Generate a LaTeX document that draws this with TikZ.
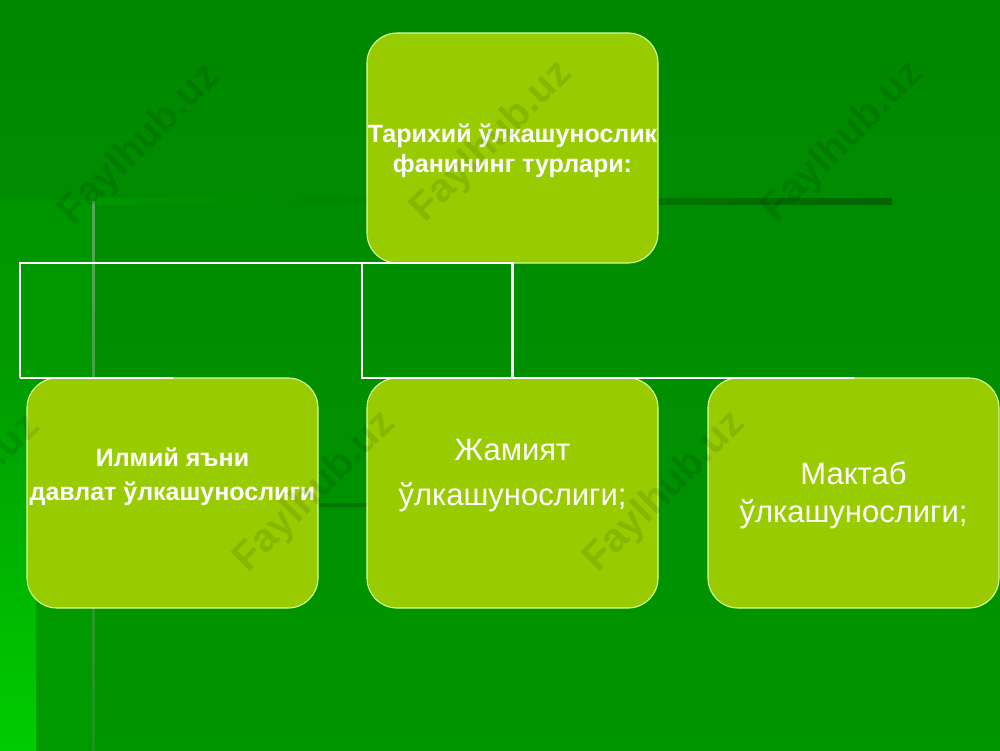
\documentclass[tikz,border=0pt]{standalone}
\usepackage{fontspec}
\setmainfont{Liberation Sans}
\usetikzlibrary{positioning}
\definecolor{bgtop}{RGB}{0,136,0}
\definecolor{bgbot}{RGB}{0,150,0}
\definecolor{bgleft}{RGB}{0,154,0}
\definecolor{bgbright}{RGB}{0,204,0}
\definecolor{bardark}{RGB}{0,102,0}
\definecolor{boxfill}{RGB}{153,204,0}
\definecolor{boxline}{RGB}{210,255,160}

\begin{document}
\begin{tikzpicture}[x=1pt, y=-1pt, node distance=115pt and 49pt,
                       box/.style={draw=boxline, line width=1.1pt, fill=boxfill, rounded corners=30pt, minimum width=291pt, minimum height=230pt, inner sep=0pt, outer sep=0pt},
                       txt/.style={text=white, align=center},
                       conn/.style={draw=white, line width=2.5pt},
                       wmark/.style={rotate=45, text=black, opacity=0.1, font=\bfseries\fontsize{40}{40}\selectfont}]
        \useasboundingbox (0,0) rectangle (1000,750);
        % Background
        \shade[top color=bgtop, bottom color=bgbot] (0,0) rectangle (1000,750);
        \shade[top color=bgbot, bottom color=bgleft] (0,200) rectangle (93,750);
        \shade[top color=bgleft, bottom color=bgbright] (0,360) rectangle (36,750);
        \shade[left color=bgbot, right color=bardark] (93,198) rectangle (892,204);
        \fill[bardark, opacity=0.6] (100,503) rectangle (370,507);
        \shade[top color=gray!70!green, bottom color=bgleft!80!gray] (92,201) rectangle (94.5,750);
        % Boxes
        \node[box] (turlari) at (512.5,148) {};
        \node[box, below=of turlari] (jamiyat) {};
        \node[box, left=of jamiyat] (ilmiy) {};
        \node[box, right=50pt of jamiyat] (maktab) {};
        % Texts
        \node[txt, font=\bfseries\fontsize{25}{30}\selectfont] (turlari-t) at ([yshift=-3pt]turlari.center)
            {Тарихий ўлкашунослик\\ фанининг турлари:};
        \node[txt, font=\bfseries\fontsize{25}{34}\selectfont] (ilmiy-t) at ([yshift=16pt]ilmiy.center)
            {Илмий яъни\\давлат ўлкашунослиги};
        \node[txt, font=\fontsize{31}{45}\selectfont] (jamiyat-t) at ([yshift=17pt]jamiyat.center)
            {Жамият\\ ўлкашунослиги;};
        \node[txt, font=\fontsize{31}{38}\selectfont] (maktab-t) at ([yshift=-2pt]maktab.center)
            {Мактаб\\ ўлкашунослиги;};
        % Connectors
        \coordinate (lft) at (20,263);
        \coordinate (mid) at (362,263);
        \draw[conn] (lft |- ilmiy.north) -- (lft) -- (turlari.south) -- (jamiyat.north);
        \draw[conn] (lft |- ilmiy.north) -- (ilmiy.north);
        \draw[conn] (mid) -- (mid |- jamiyat.north) -- (maktab.north);
        % Watermarks
        \foreach \x/\y [count=\i] in {140/145, 492/142, 843/142, -40/495, 315/492, 665/492}
            \node[wmark] (wm\i) at (\x,\y) {Faylhub.uz};
    \end{tikzpicture}
\end{document}
